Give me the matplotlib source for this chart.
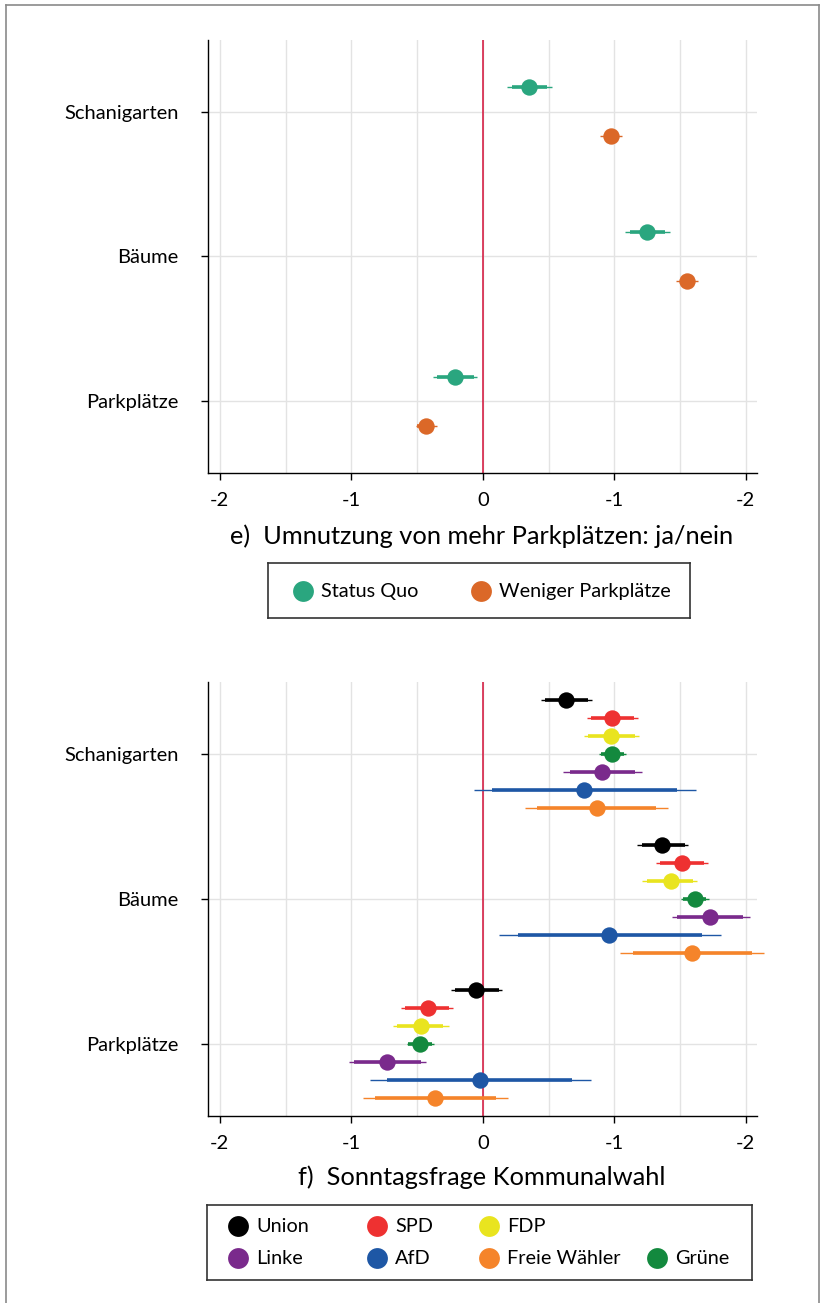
import matplotlib.pyplot as plt
from matplotlib.lines import Line2D
from matplotlib.ticker import FixedLocator
import numpy as np

plt.rcParams["font.family"] = ["Lato", "DejaVu Sans"]

# ── data ──────────────────────────────────────────────────────────────────────
categories = ["Schanigarten", "Bäume", "Parkplätze"]
xtick_vals = [-2, -1, 0, 1, 2]
xtick_labels = ["-2", "-1", "0", "-1", "-2"]

# panel e: Status Quo / Weniger Parkplätze
e_groups = ["Status Quo", "Weniger Parkplätze"]
e_colors = ["#2AA67F", "#DB6828"]
e_est  = [[0.354, 1.247, -0.215], [0.973, 1.555, -0.435]]
e_lo95 = [[0.185, 1.080, -0.380], [0.890, 1.470, -0.510]]
e_hi95 = [[0.526, 1.420, -0.043], [1.060, 1.640, -0.350]]
e_lo90 = [[0.220, 1.120, -0.350], [0.920, 1.500, -0.500]]
e_hi90 = [[0.490, 1.385, -0.070], [1.030, 1.610, -0.370]]

# panel f: Sonntagsfrage (rows top → bottom within each category)
parties = ["Union", "SPD", "FDP", "Grüne", "Linke", "AfD", "Freie Wähler"]
party_colors = ["#000000", "#EE3131", "#E9E41F", "#13893E", "#7A2A8C", "#1E57A5", "#F5842A"]
# values per party: [Schanigarten, Bäume, Parkplätze]
f_est  = [[0.635, 1.365, -0.05], [0.98, 1.515, -0.42], [0.976, 1.43, -0.47],
          [0.986, 1.61, -0.48], [0.91, 1.73, -0.73], [0.77, 0.96, -0.02],
          [0.87, 1.59, -0.36]]
f_lo95 = [[0.44, 1.17, -0.245], [0.79, 1.32, -0.62], [0.77, 1.21, -0.68],
          [0.885, 1.51, -0.58], [0.61, 1.44, -1.02], [-0.07, 0.12, -0.86],
          [0.32, 1.04, -0.91]]
f_hi95 = [[0.83, 1.56, 0.149], [1.18, 1.71, -0.23], [1.19, 1.63, -0.26],
          [1.09, 1.72, -0.37], [1.21, 2.03, -0.43], [1.62, 1.81, 0.82],
          [1.41, 2.14, 0.19]]
f_lo90 = [[0.475, 1.21, -0.21], [0.82, 1.35, -0.59], [0.80, 1.25, -0.65],
          [0.90, 1.52, -0.566], [0.66, 1.48, -0.98], [0.07, 0.27, -0.73],
          [0.41, 1.14, -0.82]]
f_hi90 = [[0.80, 1.54, 0.12], [1.15, 1.68, -0.26], [1.16, 1.60, -0.30],
          [1.075, 1.70, -0.39], [1.16, 1.98, -0.47], [1.48, 1.67, 0.68],
          [1.32, 2.05, 0.10]]

# ── layout helpers ────────────────────────────────────────────────────────────
W, H = 821, 1303
fig = plt.figure(figsize=(W / 100, H / 100), dpi=100)


def px_box(l, t, r, b):
    return [l / W, 1 - b / H, (r - l) / W, (b - t) / H]


cat_y = np.array([3, 2, 1])


def style_axes(ax):
    ax.set_xlim(-2.09, 2.085)
    ax.set_ylim(0.503, 3.495)
    ax.xaxis.set_major_locator(FixedLocator(xtick_vals))
    ax.set_xticklabels(xtick_labels)
    ax.set_yticks(cat_y)
    ax.set_yticklabels(categories)
    for xg in np.arange(-2, 2.01, 0.5):
        ax.axvline(xg, color="#e3e3e3", lw=1.0, zorder=0)
    for yg in cat_y:
        ax.axhline(yg, color="#e3e3e3", lw=1.0, zorder=0)
    ax.axvline(0, color="#D41038", lw=1.1, zorder=1)
    for s in ["top", "right"]:
        ax.spines[s].set_visible(False)
    ax.spines["left"].set_linewidth(1.0)
    ax.spines["bottom"].set_linewidth(1.0)
    ax.tick_params(axis="x", length=5, width=1, pad=9, labelsize=14.5)
    ax.tick_params(axis="y", length=5, width=1, pad=16, labelsize=14.5)


def draw_ci(ax, y, est, lo95, hi95, lo90, hi90, color):
    ax.hlines(y, lo95, hi95, color=color, lw=1.0, zorder=3, clip_on=False)
    ax.hlines(y, lo90, hi90, color=color, lw=2.6, zorder=3, clip_on=False)
    ax.plot(est, y, "o", color=color, ms=11.8, mec="none", zorder=4)


def draw_legend(box, entries):
    l, t, r, b = box
    lax = fig.add_axes(px_box(l, t, r, b))
    lax.set_xlim(l, r)
    lax.set_ylim(b, t)
    lax.set_xticks([])
    lax.set_yticks([])
    for s in lax.spines.values():
        s.set_linewidth(1.2)
        s.set_color("#333333")
    for label, color, x, y in entries:
        lax.plot(x, y, "o", color=color, ms=15, mec="none")
        lax.text(x + 18, y, label, va="center", ha="left", fontsize=14.3)


# ── panel e ───────────────────────────────────────────────────────────────────
ax1 = fig.add_axes(px_box(208, 40, 757, 473))
style_axes(ax1)
e_off = [-0.169, 0.169]
for g in range(len(e_groups)):
    draw_ci(ax1, cat_y - e_off[g], e_est[g], e_lo95[g], e_hi95[g],
            e_lo90[g], e_hi90[g], e_colors[g])
fig.text(482 / W, 1 - 536 / H, "e)  Umnutzung von mehr Parkplätzen: ja/nein",
         ha="center", va="center", fontsize=18.3)
draw_legend((268, 563, 690, 618),
            [(e_groups[0], e_colors[0], 303, 591),
             (e_groups[1], e_colors[1], 481, 591)])

# ── panel f ───────────────────────────────────────────────────────────────────
ax2 = fig.add_axes(px_box(208, 682, 757, 1116))
style_axes(ax2)
row_step = 0.124
for i in range(len(parties)):
    y = cat_y - (i - 3) * row_step
    draw_ci(ax2, y, f_est[i], f_lo95[i], f_hi95[i], f_lo90[i], f_hi90[i],
            party_colors[i])
fig.text(482 / W, 1 - 1177 / H, "f)  Sonntagsfrage Kommunalwahl",
         ha="center", va="center", fontsize=18.3)

pc = dict(zip(parties, party_colors))
leg_x = [238, 377, 489, 657]
draw_legend((207, 1205, 752, 1280),
            [("Union", pc["Union"], leg_x[0], 1226),
             ("SPD", pc["SPD"], leg_x[1], 1226),
             ("FDP", pc["FDP"], leg_x[2], 1226),
             ("Linke", pc["Linke"], leg_x[0], 1258),
             ("AfD", pc["AfD"], leg_x[1], 1258),
             ("Freie Wähler", pc["Freie Wähler"], leg_x[2], 1258),
             ("Grüne", pc["Grüne"], leg_x[3], 1258)])

# outer frame (left, top, right)
for xs, ys in [([6, 6], [5, H]), ([6, 819], [5, 5]), ([819, 819], [5, H])]:
    fig.add_artist(Line2D([x / W for x in xs], [1 - y / H for y in ys],
                          color="#8a8a8a", lw=1.2))

fig.savefig("out.png", dpi=100)
